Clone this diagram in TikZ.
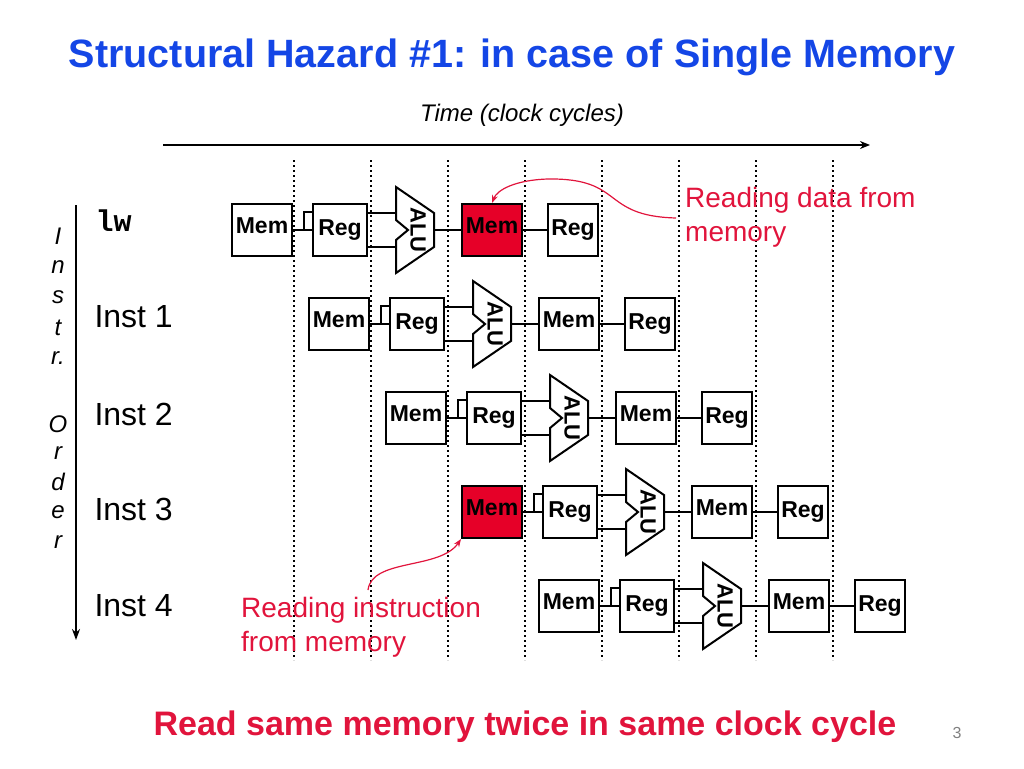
\documentclass[tikz,border=0pt]{standalone}
\usepackage{fontspec}
\setmainfont{Liberation Sans}
\newfontfamily\monof{Liberation Mono}
\usetikzlibrary{arrows.meta,calc}
\definecolor{ttl}{RGB}{20,70,230}
\definecolor{hz}{RGB}{230,0,40}
\definecolor{note}{RGB}{225,20,60}
\begin{document}
\begin{tikzpicture}[x=1pt,y=-1pt,
  box/.style={draw=black,line width=2pt,minimum width=#1,minimum height=52pt,inner sep=0pt,font=\fontsize{23}{23}\selectfont\bfseries},
  wire/.style={line width=2pt},
  grid/.style={line width=2.6pt,dash pattern=on 2.4pt off 2.6pt},
  lbl/.style={font=\fontsize{32}{32}\selectfont,anchor=west},
  ord/.style={font=\fontsize{24}{24}\selectfont\itshape},
  redt/.style={font=\fontsize{28}{34}\selectfont,text=note,align=left,anchor=north west,inner sep=0pt}]
\useasboundingbox (0,0) rectangle (1024,768);
\node (title) at (512,57) {\fontsize{39.5}{40}\selectfont\bfseries\color{ttl}Structural Hazard \#1: in case of Single Memory};
\node (time) at (522,115) {\fontsize{24}{24}\selectfont\itshape Time (clock cycles)};
\coordinate (t0) at (163,145); \coordinate (t1) at (870,145);
\draw[line width=2.6pt,-{Stealth[length=10pt,width=8pt]}] (t0) -- (t1);
\foreach \x [count=\i] in {294,371,448,525,602,679,756,833}{
  \coordinate (g\i a) at (\x,160); \coordinate (g\i b) at (\x,660);
  \draw[grid] (g\i a) -- (g\i b);}
\coordinate (o0) at (76,205); \coordinate (o1) at (76,640);
\draw[line width=2.6pt,-{Stealth[length=11pt,width=8pt]}] (o0) -- (o1);
\foreach \c/\y [count=\k] in {I/236,n/267,s/297,t/328,r./358,O/424,r/453,d/482,e/512,r/542}
  \node[ord] (L\k) at (58,\y) {\c};
\node[anchor=west,font=\fontsize{30}{30}\selectfont\bfseries\monof] (lw) at (92,221) {lw};
\foreach \t/\y [count=\k] in {Inst 1/317,Inst 2/414,Inst 3/509,Inst 4/606}
  \node[lbl] (I\k) at (91,\y) {\t};
\foreach \ox/\y/\fa/\fb [count=\r] in {232/230/white/hz,309/324/white/white,386/418/white/white,462/512/hz/white,539/606/white/white}{
  \node[box=60pt,fill=\fa] (ma\r) at (\ox+30,\y) {\raisebox{8pt}{Mem}};
  \node[box=54pt] (ra\r) at (\ox+108,\y) {\raisebox{3pt}{Reg}};
  \draw[line width=2pt,fill=white] (\ox+164,\y-43) -- (\ox+202,\y-17) -- (\ox+202,\y+17) -- (\ox+164,\y+43) -- (\ox+164,\y+10) -- (\ox+176,\y) -- (\ox+164,\y-10) -- cycle;
  \node[rotate=-90,inner sep=0pt,font=\fontsize{22}{22}\selectfont\bfseries] (alu\r) at (\ox+186,\y) {ALU};
  \node[box=60pt,fill=\fb] (mb\r) at (\ox+260,\y) {\raisebox{8pt}{Mem}};
  \node[box=50pt] (rb\r) at (\ox+341,\y) {\raisebox{3pt}{Reg}};
  \coordinate (ai\r) at (\ox+164,\y-17); \coordinate (aj\r) at (\ox+164,\y+17);
  \coordinate (ao\r) at (\ox+202,\y);
  \draw[wire] (ma\r.east) -- (ra\r.west);
  \draw[wire] ($(ra\r.west)+(-8,0)$) -- ($(ra\r.west)+(-8,-18)$) -- ($(ra\r.west)+(0,-18)$);
  \draw[wire] (ra\r.east |- ai\r) -- (ai\r);
  \draw[wire] (ra\r.east |- aj\r) -- (aj\r);
  \draw[wire] (ao\r) -- (mb\r.west);
  \draw[wire] (mb\r.east) -- (rb\r.west);
}
\node[redt] (n1) at (685,187) {Reading data from\\memory};
\node[redt] (n2) at (241,597) {Reading instruction\\from memory};
\coordinate (c1) at (676,218); \coordinate (c2) at (368,590);
\draw[note,line width=1.2pt,-{Stealth[length=8pt,width=6pt]}] (c1) .. controls (600,216) and (625,178) .. (548,179) .. controls (515,180) and (497,190) .. (mb1.north);
\draw[note,line width=1.2pt,-{Stealth[length=8pt,width=6pt]}] (c2) .. controls (372,558) and (440,570) .. (ma4.south west);
\node (bot) at (525,727) {\fontsize{34}{34}\selectfont\bfseries\color{note}Read same memory twice in same clock cycle};
\node (pg) at (957,733) {\fontsize{16}{16}\selectfont\color{gray}3};
\end{tikzpicture}
\end{document}
